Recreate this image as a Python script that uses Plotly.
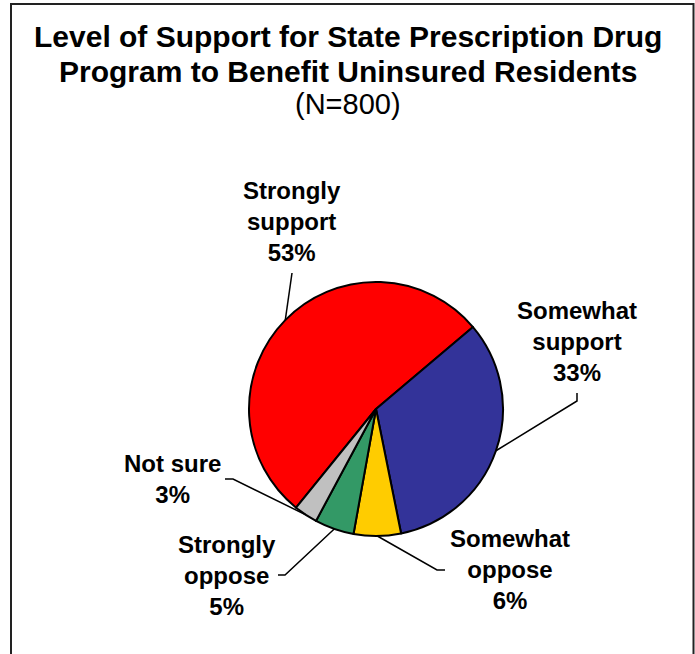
import math
import plotly.graph_objects as go

# ---- data ----
categories = ["Strongly support", "Somewhat support", "Somewhat oppose", "Strongly oppose", "Not sure"]
values = [53, 33, 6, 5, 3]
label_texts = ["Strongly<br>support<br>53%", "Somewhat<br>support<br>33%",
               "Somewhat<br>oppose<br>6%", "Strongly<br>oppose<br>5%", "Not sure<br>3%"]
colors = ["#FF0000", "#333399", "#FFCC00", "#339966", "#C0C0C0"]
title_lines = ["Level of Support for State Prescription Drug",
               "Program to Benefit Uninsured Residents",
               "(N=800)"]

# ---- layout constants (pixels) ----
W, H = 695, 654
CX, CY, R = 376, 409, 127
ROTATION = -141  # degrees clockwise from 12 o'clock where first slice starts

# label centre positions and leader-line start/elbow points (pixels)
label_pos = [(292, 221), (577, 341), (510, 569), (227, 575), (172, 479)]
leader_pts = [
    [(292, 273)],
    [(577, 393), (577, 401)],
    [(445, 570), (437, 570)],
    [(278, 575), (285, 575)],
    [(225, 479), (233, 479)],
]

FONT = "Liberation Sans, Arial, sans-serif"


def px(x):
    return x / W


def py(y):
    return 1 - y / H


fig = go.Figure(go.Pie(
    labels=categories, values=values, sort=False, direction="clockwise",
    rotation=ROTATION,
    marker=dict(colors=colors, line=dict(color="black", width=2)),
    textinfo="none", hoverinfo="label+percent", showlegend=False,
    domain=dict(x=[px(CX - R), px(CX + R)], y=[py(CY + R), py(CY - R)]),
))

annotations = []
shapes = []

# slice mid-angles from the data
total = sum(values)
angle = ROTATION
for i, v in enumerate(values):
    mid = angle + v / total * 360 / 2
    angle += v / total * 360
    ex = CX + R * math.sin(math.radians(mid))
    ey = CY - R * math.cos(math.radians(mid))
    pts = leader_pts[i] + [(ex, ey)]
    path = "M " + " L ".join(f"{px(x):.5f},{py(y):.5f}" for x, y in pts)
    shapes.append(dict(type="path", path=path, xref="paper", yref="paper",
                       line=dict(color="black", width=1.5)))
    lx, ly = label_pos[i]
    annotations.append(dict(text=label_texts[i], x=px(lx), y=py(ly), xref="paper", yref="paper",
                            xanchor="center", yanchor="middle", showarrow=False, align="center",
                            font=dict(family=FONT, size=24, color="black", weight="bold")))

title_y = [36, 71, 104]
for i, t in enumerate(title_lines):
    annotations.append(dict(text=t, x=px(348), y=py(title_y[i]), xref="paper", yref="paper",
                            xanchor="center", yanchor="middle", showarrow=False,
                            font=dict(family=FONT, size=30 if i < 2 else 29, color="black",
                                      weight="bold" if i < 2 else "normal")))

# outer frame
shapes.append(dict(type="rect", xref="paper", yref="paper",
                   x0=px(11), x1=px(693.5), y0=-0.02, y1=py(4),
                   line=dict(color="#222222", width=2)))

fig.update_layout(
    width=W, height=H, margin=dict(l=0, r=0, t=0, b=0),
    paper_bgcolor="white", plot_bgcolor="white",
    annotations=annotations, shapes=shapes,
)

fig.write_html("out.html")
